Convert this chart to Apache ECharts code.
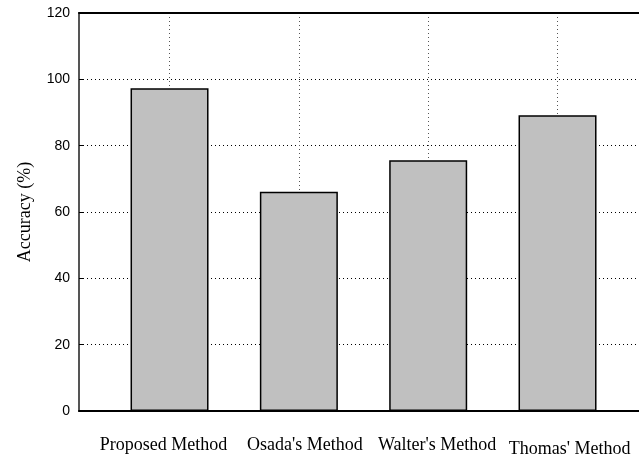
<!DOCTYPE html>
<html>
<head>
<meta charset="utf-8">
<script src="https://cdn.jsdelivr.net/npm/echarts@6/dist/echarts.min.js"></script>
<style>html,body{margin:0;padding:0;background:#fff}#c{width:639px;height:459px}</style>
</head>
<body>
<div id="c"></div>
<script>
const categories = ["Proposed Method", "Osada's Method", "Walter's Method", "Thomas' Method"];
const accuracy = [97.3, 66.1, 75.6, 89.2];
const yTicks = [0, 20, 40, 60, 80, 100, 120];
const yAxisName = "Accuracy (%)";

const positions = categories.map((_, i) => i);
const labelShift = [{padding:[0,12,0,0]}, {padding:[0,0,0,12]}, {padding:[0,0,0,18]}, {padding:[4,0,0,24]}];
const rich = {};
labelShift.forEach((s, i) => { rich['c' + i] = Object.assign({fontFamily:'Liberation Serif', fontSize:18, color:'#000'}, s); });

const chart = echarts.init(document.getElementById('c'), null, {renderer:'canvas'});
chart.setOption({
  animation: false,
  backgroundColor: '#fff',
  grid: {left: 79, right: 0, top: 13, bottom: 48, containLabel: false},
  xAxis: [{
    type: 'value', min: -0.7, max: 3.63,
    axisLine: {show: true, onZero: false, lineStyle: {color: '#000', width: 2}},
    axisTick: {show: false, customValues: positions},
    axisLabel: {
      customValues: positions, margin: 25,
      formatter: (v) => { const i = Math.round(v); return '{c' + i + '|' + categories[i] + '}'; },
      rich: rich
    },
    splitLine: {show: true, lineStyle: {color: '#555', type: [1, 3], width: 1}}
  }, {
    type: 'value', position: 'top', min: -0.7, max: 3.63,
    axisLine: {show: true, onZero: false, lineStyle: {color: '#000', width: 2}},
    axisTick: {show: false}, axisLabel: {show: false}, splitLine: {show: false}
  }],
  yAxis: {
    type: 'value', min: yTicks[0], max: yTicks[yTicks.length - 1], interval: 20,
    name: yAxisName, nameLocation: 'middle', nameGap: 45,
    nameTextStyle: {fontFamily: 'Liberation Serif', fontSize: 18, color: '#000'},
    axisLine: {show: true, onZero: false, lineStyle: {color: '#555', width: 2}},
    axisTick: {show: true, inside: true, length: 4, lineStyle: {color: '#000'}},
    axisLabel: {fontFamily: 'Liberation Sans', fontSize: 14, color: '#000', margin: 9},
    splitLine: {show: true, lineStyle: {color: '#000', type: [1, 3], width: 1}}
  },
  series: [{
    type: 'bar', barWidth: 78, xAxisIndex: 0,
    data: positions.map((p, i) => [p, accuracy[i]]),
    itemStyle: {color: '#c0c0c0', borderColor: '#000', borderWidth: 1.5}
  }]
});
</script>
</body>
</html>
